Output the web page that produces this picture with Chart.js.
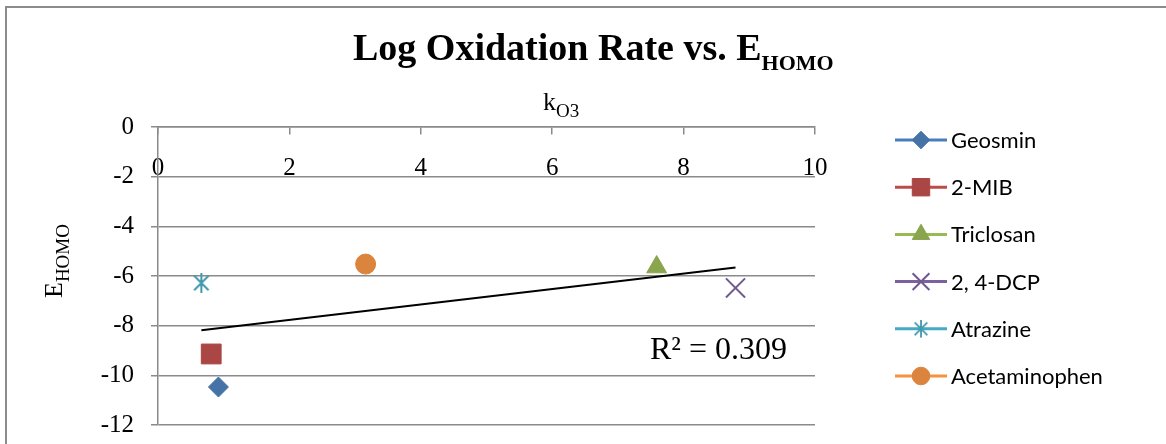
<!DOCTYPE html>
<html>
<head>
<meta charset="utf-8">
<script src="https://cdn.jsdelivr.net/npm/chart.js@4/dist/chart.umd.min.js"></script>
<style>
  html, body { margin: 0; padding: 0; background: #fff; }
  #wrap { width: 1166px; height: 444px; }
</style>
</head>
<body>
<div id="wrap"><canvas id="c" width="1166" height="444"></canvas></div>
<script>
// compounds, their ozone rate constants and HOMO energies
const compounds = ['Geosmin', '2-MIB', 'Triclosan', '2, 4-DCP', 'Atrazine', 'Acetaminophen'];
const kO3 = [0.92, 0.81, 7.59, 8.79, 0.66, 3.16];
const eHomo = [-10.47, -9.14, -5.64, -6.48, -6.28, -5.52];
const xTicks = [0, 2, 4, 6, 8, 10];
const yTicks = [0, -2, -4, -6, -8, -10, -12];
const r2Label = 'R² = 0.309';

const markerColors = ['#4572A7', '#AA4643', '#89A54E', '#71588F', '#4198AF', '#DB843D'];
const lineColors = ['#4A7EBB', '#BE4B48', '#98B954', '#7D60A0', '#46AAC5', '#F69240'];
const gridColor = '#8a8a8a';
const serif = '"Liberation Serif", "Times New Roman", serif';

// asterisk marker: vertical bar plus an X
function makeAsterisk(size, color) {
  const cv = document.createElement('canvas');
  cv.width = size; cv.height = size;
  const g = cv.getContext('2d');
  const m = size / 2, r = size / 2 - 1, d = r * 0.72;
  g.strokeStyle = color;
  g.lineWidth = 2;
  g.beginPath();
  g.moveTo(m, m - r); g.lineTo(m, m + r);
  g.moveTo(m - d, m - d); g.lineTo(m + d, m + d);
  g.moveTo(m + d, m - d); g.lineTo(m - d, m + d);
  g.stroke();
  return cv;
}

const styles = ['rectRot', 'rect', 'triangle', 'crossRot', makeAsterisk(22, markerColors[4]), 'circle'];
const radii = [10, 14, 11.5, 13.5, 10, 10];

// least squares fit through all compounds
function linearFit(xs, ys) {
  const n = xs.length;
  const mx = xs.reduce((a, b) => a + b, 0) / n;
  const my = ys.reduce((a, b) => a + b, 0) / n;
  let sxy = 0, sxx = 0;
  for (let i = 0; i < n; i++) {
    sxy += (xs[i] - mx) * (ys[i] - my);
    sxx += (xs[i] - mx) * (xs[i] - mx);
  }
  const slope = sxy / sxx;
  return { slope: slope, intercept: my - slope * mx };
}
const fit = linearFit(kO3, eHomo);
const xMin = Math.min(...kO3), xMax = Math.max(...kO3);

const datasets = compounds.map((name, i) => ({
  label: name,
  data: [{ x: kO3[i], y: eHomo[i] }],
  pointStyle: styles[i],
  pointRadius: radii[i],
  pointHoverRadius: radii[i],
  pointBackgroundColor: markerColors[i],
  pointBorderColor: markerColors[i],
  pointBorderWidth: i === 3 ? 2 : 1,
  showLine: false
}));
datasets.push({
  label: 'trend',
  type: 'line',
  data: [
    { x: xMin, y: fit.intercept + fit.slope * xMin },
    { x: xMax, y: fit.intercept + fit.slope * xMax }
  ],
  borderColor: '#000',
  borderWidth: 2,
  pointRadius: 0,
  fill: false,
  order: 10
});

function drawMarker(ctx, i, x, y, s) {
  const st = styles[i], r = radii[i] * s;
  ctx.save();
  ctx.fillStyle = markerColors[i];
  ctx.strokeStyle = markerColors[i];
  ctx.lineWidth = 1;
  ctx.beginPath();
  if (st === 'rectRot') {
    ctx.moveTo(x - r, y); ctx.lineTo(x, y - r); ctx.lineTo(x + r, y); ctx.lineTo(x, y + r);
    ctx.closePath(); ctx.fill(); ctx.stroke();
  } else if (st === 'rect') {
    const h = r * Math.SQRT1_2;
    ctx.rect(x - h, y - h, 2 * h, 2 * h); ctx.fill(); ctx.stroke();
  } else if (st === 'triangle') {
    ctx.moveTo(x, y - r); ctx.lineTo(x + r * 0.866, y + r * 0.5); ctx.lineTo(x - r * 0.866, y + r * 0.5);
    ctx.closePath(); ctx.fill(); ctx.stroke();
  } else if (st === 'crossRot') {
    const h = r * Math.SQRT1_2;
    ctx.lineWidth = 2;
    ctx.moveTo(x - h, y - h); ctx.lineTo(x + h, y + h);
    ctx.moveTo(x + h, y - h); ctx.lineTo(x - h, y + h);
    ctx.stroke();
  } else if (st === 'circle') {
    ctx.arc(x, y, r, 0, Math.PI * 2); ctx.fill(); ctx.stroke();
  } else {
    const w = st.width * s;
    ctx.drawImage(st, x - w / 2, y - w / 2, w, w);
  }
  ctx.restore();
}

function subText(ctx, main, sub, x, y, mainFont, subFont, dy) {
  ctx.font = mainFont;
  ctx.fillText(main, x, y);
  const w = ctx.measureText(main).width;
  ctx.font = subFont;
  ctx.fillText(sub, x + w, y + dy);
}

const decor = {
  id: 'decor',
  beforeDraw(chart) {
    const ctx = chart.ctx;
    ctx.save();
    ctx.fillStyle = '#fff';
    ctx.fillRect(0, 0, chart.width, chart.height);
    ctx.strokeStyle = '#8c8c8c';
    ctx.lineWidth = 2;
    ctx.beginPath();
    ctx.moveTo(6, 444); ctx.lineTo(6, 7); ctx.lineTo(1166, 7);
    ctx.stroke();
    ctx.restore();
  },
  afterDraw(chart) {
    const ctx = chart.ctx;
    ctx.save();
    ctx.fillStyle = '#000';
    ctx.textAlign = 'left';
    ctx.textBaseline = 'alphabetic';

    // title
    subText(ctx, 'Log Oxidation Rate vs. E', 'HOMO', 353, 60,
      'bold 38px ' + serif, 'bold 22px ' + serif, 10);

    // axis titles
    subText(ctx, 'k', 'O3', 543, 110, '26px ' + serif, '19px ' + serif, 7);
    ctx.save();
    ctx.translate(62, 298);
    ctx.rotate(-Math.PI / 2);
    subText(ctx, 'E', 'HOMO', 0, 0, '26px ' + serif, '19px ' + serif, 7);
    ctx.restore();

    // trendline R²
    ctx.font = '32px ' + serif;
    ctx.fillText(r2Label, 650, 359);

    // legend
    ctx.textBaseline = 'middle';
    ctx.font = '22px Lato, "Noto Sans", sans-serif';
    compounds.forEach((name, i) => {
      const y = 140 + i * 47.2;
      ctx.strokeStyle = lineColors[i];
      ctx.lineWidth = 3;
      ctx.beginPath();
      ctx.moveTo(895, y); ctx.lineTo(947, y);
      ctx.stroke();
      drawMarker(ctx, i, 921, y, 0.88);
      ctx.fillStyle = '#000';
      ctx.fillText(name, 951, y + 1);
    });
    ctx.restore();
  }
};

new Chart(document.getElementById('c').getContext('2d'), {
  type: 'scatter',
  data: { datasets: datasets },
  options: {
    responsive: false,
    animation: false,
    events: [],
    layout: { padding: { left: 0, top: 127, right: 351, bottom: 19 } },
    plugins: { legend: { display: false }, title: { display: false }, tooltip: { enabled: false } },
    elements: { point: { hitRadius: 0 } },
    scales: {
      x: {
        type: 'linear',
        position: { y: 0 },
        min: 0, max: 10,
        afterBuildTicks: s => { s.ticks = xTicks.map(v => ({ value: v })); },
        grid: { drawOnChartArea: false, drawTicks: true, tickLength: 7, color: gridColor, lineWidth: 1.5 },
        border: { display: true, color: gridColor, width: 1.5 },
        ticks: { color: '#000', padding: 19, font: { family: serif, size: 25 }, maxRotation: 0 }
      },
      y: {
        type: 'linear',
        position: 'left',
        min: -12, max: 0,
        afterBuildTicks: s => { s.ticks = yTicks.map(v => ({ value: v })); },
        afterFit: s => { s.width = 158; s.paddingTop = 0; s.paddingBottom = 0; },
        grid: { drawTicks: true, tickLength: 7, color: gridColor, lineWidth: 1.5 },
        border: { display: true, color: gridColor, width: 1.5 },
        ticks: { color: '#000', padding: 17, font: { family: serif, size: 25 } }
      }
    }
  },
  plugins: [decor]
});
</script>
</body>
</html>
